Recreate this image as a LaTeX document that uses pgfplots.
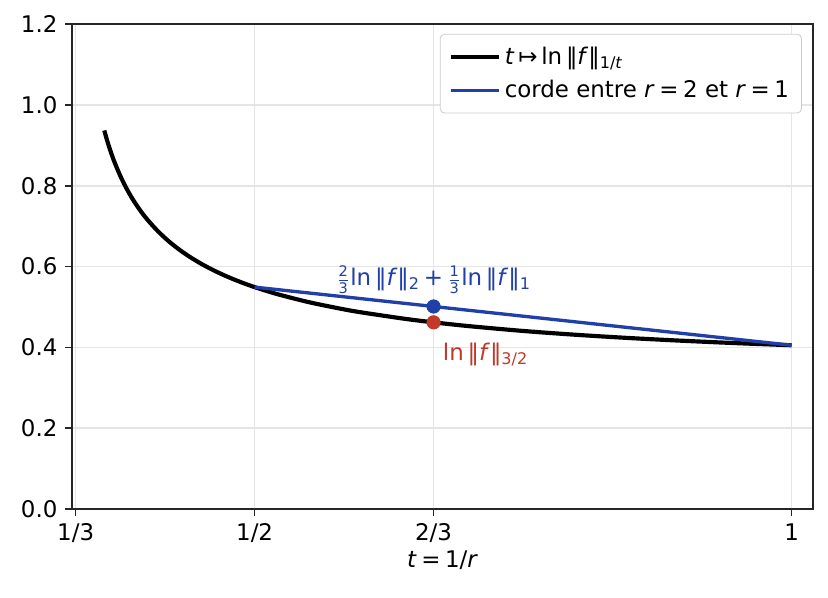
\documentclass[border=0pt]{standalone}
\usepackage{pgfplots}
\pgfplotsset{compat=1.18}
\usepackage{fontspec}
\setmainfont{DejaVu Sans}
\definecolor{cblue}{HTML}{2040A8}
\definecolor{cred}{HTML}{C0392B}
\definecolor{spine}{HTML}{262626}
\newcommand\nf{\textit{f}}
\newcommand\fr[2]{$\frac{\mbox{\scriptsize #1}}{\mbox{\scriptsize #2}}$}
\newcommand\fs{\fontsize{11}{13}\selectfont}
\newcommand\eq{\hspace{0.2em}=\hspace{0.2em}}

\begin{document}
\begin{tikzpicture}
\begin{axis}[
  scale only axis,
  width=355.7pt, height=232.8pt,
  xmin=0.33, xmax=1.02,
  ymin=0, ymax=1.2,
  xtick={0.333333,0.5,0.666667,1},
  xticklabels={1/3,1/2,2/3,1},
  ytick={0,0.2,...,1.2},
  yticklabel style={/pgf/number format/.cd,fixed,fixed zerofill,precision=1},
  /pgf/number format/assume math mode=true,
  tick align=outside,
  tick style={spine, line width=0.8pt},
  major tick length=3.5pt,
  axis line style={spine, line width=0.8pt},
  xtick pos=bottom, ytick pos=left,
  grid=major,
  grid style={black!10, line width=0.8pt},
  xlabel={\textit{t}\eq 1/\textit{r}},
  xlabel style={yshift=3pt},
  ticklabel style={font=\fs},
  label style={font=\fs},
  legend style={at={(0.985,0.98)}, anchor=north east, draw=black!20,
    rounded corners=2pt, font=\fs,
    row sep=2pt, inner xsep=4pt, inner ysep=4pt},
  legend cell align=left,
  legend image code/.code={\draw[#1] (0pt,0pt) -- (23pt,0pt);},
]
\addplot[black, line width=2pt, smooth] coordinates {
  (0.36,0.93697) (0.3625,0.91350) (0.365,0.89229) (0.3675,0.87299) (0.37,0.85531)
  (0.375,0.82396) (0.38,0.79691) (0.385,0.77325) (0.39,0.75229) (0.395,0.73357)
  (0.40,0.71670) (0.41,0.68744) (0.42,0.66284) (0.43,0.64178) (0.44,0.62351)
  (0.45,0.60747) (0.46,0.59325) (0.47,0.58054) (0.48,0.56910) (0.49,0.55874)
  (0.50,0.54931) (0.52,0.53274) (0.55,0.51236) (0.58,0.49589) (0.60,0.48656)
  (0.64,0.47085) (0.666667,0.46210) (0.70,0.45264) (0.75,0.44084) (0.80,0.43120)
  (0.85,0.42316) (0.90,0.41636) (0.95,0.41052) (1.00,0.40547)
};
\addlegendentry{\textit{t}\,↦\,ln\,‖\nf‖\textsubscript{1/\textit{t}}}
\addplot[cblue, line width=1.6pt] coordinates {(0.5,0.54931) (1,0.40547)};
\addlegendentry{corde entre \textit{r}\eq 2 et \textit{r}\eq 1}
\addplot[only marks, mark=*, mark size=3.2pt, cblue, forget plot] coordinates {(0.666667,0.50136)};
\addplot[only marks, mark=*, mark size=3.2pt, cred, forget plot] coordinates {(0.666667,0.46210)};
\node[cblue, font=\fs, anchor=base] at (axis cs:0.666667,0.553)
  {\fr{2}{3}ln\,‖\nf‖\textsubscript{2}\,+\,\fr{1}{3}ln\,‖\nf‖\textsubscript{1}};
\node[cred, font=\fs, anchor=base west] at (axis cs:0.6685,0.368)
  {ln\,‖\nf‖\textsubscript{3/2}};
\end{axis}
\pgfresetboundingbox
\path[use as bounding box] (-34.6pt,-42.2pt) rectangle (362.9pt,244.4pt);
\end{tikzpicture}
\end{document}
